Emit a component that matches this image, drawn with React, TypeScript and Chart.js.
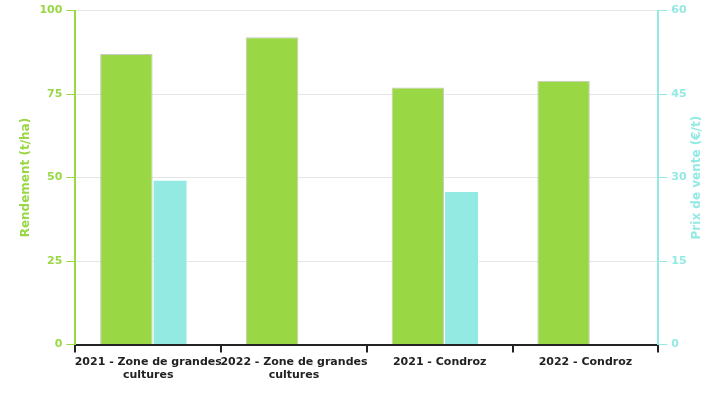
import React, { useEffect, useRef } from "react";
import { Chart, registerables } from "chart.js";

Chart.register(...registerables);

const categories: (string | string[])[] = [
  ["2021 - Zone de grandes", "cultures"],
  ["2022 - Zone de grandes", "cultures"],
  "2021 - Condroz",
  "2022 - Condroz",
];
const rendement = [87, 92, 77, 79];
const prix: (number | null)[] = [29.6, null, 27.6, null];
const leftTicks = [0, 25, 50, 75, 100];
const rightTicks = [0, 15, 30, 45, 60];
const rightTitle = "Prix de vente (€/t)";

const GREEN = "rgb(154,215,69)";
const CYAN = "rgb(147,234,227)";
const FONT = "'DejaVu Sans', sans-serif";

const rightTitlePlugin = {
  id: "rightTitle",
  afterDraw(chart: any) {
    const s = chart.scales.y1;
    const ctx = chart.ctx;
    ctx.save();
    ctx.font = `bold 12px ${FONT}`;
    ctx.fillStyle = CYAN;
    ctx.textAlign = "center";
    ctx.textBaseline = "middle";
    ctx.translate(s.left + 39, (chart.chartArea.top + chart.chartArea.bottom) / 2);
    ctx.rotate(-Math.PI / 2);
    ctx.fillText(rightTitle, 0, 0);
    ctx.restore();
  },
};

export default function App() {
  const ref = useRef<HTMLCanvasElement>(null);
  useEffect(() => {
    if (!ref.current) return;
    const chart = new Chart(ref.current, {
      type: "bar",
      data: {
        labels: categories,
        datasets: [
          {
            label: "Rendement",
            data: rendement,
            backgroundColor: GREEN,
            borderColor: "#c8c8c8",
            borderWidth: 1,
            yAxisID: "y",
            barPercentage: 1.2,
            categoryPercentage: 0.6,
          },
          {
            label: "Prix",
            data: prix,
            backgroundColor: CYAN,
            borderColor: "#ffffff",
            borderWidth: 1,
            yAxisID: "y1",
            barPercentage: 0.8,
            categoryPercentage: 0.6,
          },
        ],
      },
      plugins: [rightTitlePlugin],
      options: {
        animation: false,
        responsive: true,
        maintainAspectRatio: false,
        layout: { padding: { left: 13, right: 12, top: 1, bottom: 15 } },
        plugins: { legend: { display: false }, tooltip: { enabled: false } },
        scales: {
          x: {
            offset: true,
            grid: {
              display: true,
              drawOnChartArea: false,
              offset: true,
              color: "#222",
              tickLength: 8,
              lineWidth: 2,
            },
            border: { color: "#222", width: 2 },
            ticks: {
              color: "#222",
              maxRotation: 0,
              autoSkip: false,
              padding: 3,
              font: { family: FONT, size: 11, weight: "bold" },
            },
          },
          y: {
            position: "left",
            min: 0,
            max: 100,
            afterBuildTicks: (s: any) => {
              s.ticks = leftTicks.map((v) => ({ value: v }));
            },
            grid: { color: "#e6e6e6", tickColor: GREEN, tickLength: 9 },
            border: { color: GREEN, width: 2 },
            ticks: {
              color: GREEN,
              padding: 4,
              font: { family: FONT, size: 11, weight: "bold" },
            },
            title: {
              display: true,
              text: "Rendement (t/ha)",
              color: GREEN,
              padding: { top: 6, bottom: 2 },
              font: { family: FONT, size: 12, weight: "bold" },
            },
          },
          y1: {
            position: "right",
            min: 0,
            max: 60,
            afterBuildTicks: (s: any) => {
              s.ticks = rightTicks.map((v) => ({ value: v }));
            },
            grid: { drawOnChartArea: false, color: CYAN, tickLength: 9 },
            border: { color: CYAN, width: 2 },
            ticks: {
              color: CYAN,
              padding: 4,
              font: { family: FONT, size: 11, weight: "bold" },
            },
            title: {
              display: true,
              text: rightTitle,
              color: "rgba(0,0,0,0)",
              font: { family: FONT, size: 12, weight: "bold" },
            },
          },
        },
      },
    });
    return () => chart.destroy();
  }, []);
  return (
    <div style={{ width: 725, height: 400, position: "absolute", left: 0, top: 0 }}>
      <canvas ref={ref} />
    </div>
  );
}
